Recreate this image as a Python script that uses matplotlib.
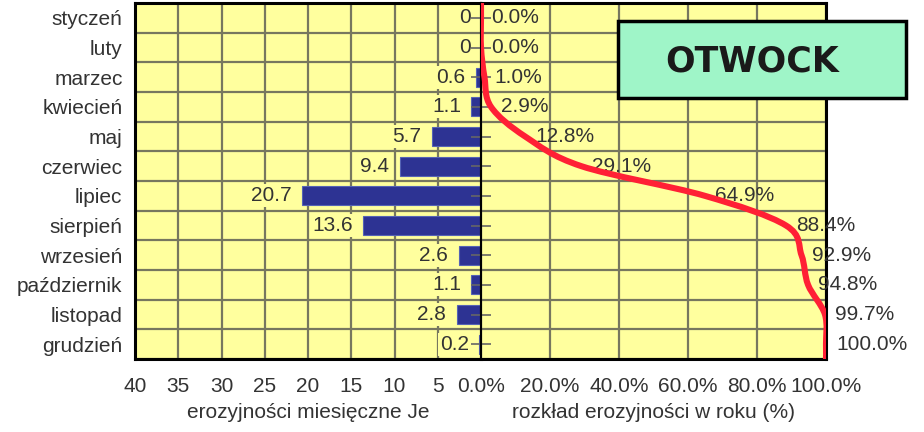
import numpy as np
import matplotlib
matplotlib.use("Agg")
import matplotlib.pyplot as plt
from matplotlib.path import Path
from matplotlib.patches import PathPatch, Rectangle

# ---- data -------------------------------------------------------------
months = ['styczeń', 'luty', 'marzec', 'kwiecień', 'maj', 'czerwiec',
          'lipiec', 'sierpień', 'wrzesień', 'październik', 'listopad', 'grudzień']
erosivity = [0, 0, 0.6, 1.1, 5.7, 9.4, 20.7, 13.6, 2.6, 1.1, 2.8, 0.2]
cumulative_pct = [0.0, 0.0, 1.0, 2.9, 12.8, 29.1, 64.9, 88.4, 92.9, 94.8, 99.7, 100.0]
left_ticks = [40, 35, 30, 25, 20, 15, 10, 5]
right_ticks = [0, 20, 40, 60, 80, 100]
station = 'OTWOCK'
left_title = 'erozyjności miesięczne Je'
right_title = 'rozkład erozyjności w roku (%)'

# ---- style ------------------------------------------------------------
plt.rcParams['font.family'] = ['Liberation Sans', 'DejaVu Sans']
TXT = '#333333'
BG = '#FFFF9E'
GRID = '#77775f'
BAR = '#2D3393'
RED = '#FF2035'
FS = 15

W, H = 924, 432
fig = plt.figure(figsize=(W / 100, H / 100), dpi=100)


def fx(px):
    return px / W


def fy(py):
    return 1 - py / H


L, C, R, T, B = 135, 481, 826, 3, 359
axl = fig.add_axes([fx(L), fy(B), fx(C) - fx(L), fy(T) - fy(B)])
axr = fig.add_axes([fx(C), fy(B), fx(R) - fx(C), fy(T) - fy(B)])

rows = np.arange(len(months))
for ax in (axl, axr):
    ax.set_facecolor(BG)
    ax.set_ylim(len(months) - 0.5, -0.5)
    ax.set_yticks(rows + 0.5, minor=True)
    ax.grid(True, which='minor', axis='y', color=GRID, lw=1.6)
    ax.grid(True, which='major', axis='x', color=GRID, lw=1.6)
    ax.set_axisbelow(True)
    for s in ax.spines.values():
        s.set_color('black')
        s.set_linewidth(2.2)
    ax.tick_params(axis='y', which='minor', length=0)
    ax.tick_params(axis='x', length=0, pad=13, labelsize=FS, labelcolor=TXT)

# ---- left: monthly erosivity bars ------------------------------------
axl.set_xlim(40, 0)
axl.barh(rows, erosivity, height=0.64, color=BAR, edgecolor='#5563b5',
         linewidth=0.8, zorder=2)
axl.set_xticks(left_ticks)
axl.set_xticklabels([str(t) for t in left_ticks])
axl.set_yticks(rows)
axl.set_yticklabels(months)
axl.tick_params(axis='y', which='major', length=0, pad=9, labelsize=FS,
                labelcolor=TXT)
axl.spines['right'].set_linewidth(1.5)

for i, v in enumerate(erosivity):
    lab = '0' if v == 0 else f'{v:.1f}'
    axl.annotate(lab, xy=(v, i), xytext=(-7.5, 0), textcoords='offset points',
                 ha='right', va='center', fontsize=FS, color=TXT, zorder=3,
                 bbox=dict(boxstyle='square,pad=0.1', fc=BG, ec='none'))

# ---- right: cumulative distribution ---------------------------------
axr.set_xlim(0, 100)
axr.set_xticks(right_ticks)
axr.set_xticklabels([f'{t:.1f}%' for t in right_ticks])
axr.set_yticks(rows)
axr.set_yticklabels([])
axr.tick_params(axis='y', which='major', direction='inout', length=14,
                width=1.2, color='#666666')
axr.spines['left'].set_linewidth(1.5)

for i, p in enumerate(cumulative_pct):
    axr.annotate(f'{p:.1f}%', xy=(p, i), xytext=(7.5, 0),
                 textcoords='offset points', ha='left', va='center',
                 fontsize=FS, color=TXT, zorder=3, annotation_clip=False)

# smoothed curve (Catmull-Rom -> cubic Bezier), computed in pixel-scaled space
y0, y1 = axr.get_ylim()
pts = [(cumulative_pct[0], y1)] + list(zip(cumulative_pct, rows)) + \
      [(cumulative_pct[-1], y0)]
sx = (R - C) / 100.0
sy = (B - T) / len(months)
P = np.array([(x * sx, y * sy) for x, y in pts], dtype=float)
verts = [P[0]]
codes = [Path.MOVETO]
n = len(P)
for k in range(n - 1):
    p0 = P[k - 1] if k > 0 else P[k]
    p1 = P[k]
    p2 = P[k + 1]
    p3 = P[k + 2] if k + 2 < n else P[k + 1]
    c1 = p1 + (p2 - p0) / 6.0
    c2 = p2 - (p3 - p1) / 6.0
    verts += [c1, c2, p2]
    codes += [Path.CURVE4] * 3
verts = np.array(verts)
verts[:, 0] /= sx
verts[:, 1] /= sy
curve = PathPatch(Path(verts, codes), fc='none', ec=RED, lw=4.4,
                  capstyle='round', joinstyle='round', zorder=4)
axr.add_patch(curve)

# ---- titles -----------------------------------------------------------
fig.text(fx((L + C) / 2), fy(413), left_title, ha='center', va='center',
         fontsize=FS, color=TXT)
fig.text(fx((C + R) / 2), fy(413), right_title, ha='center', va='center',
         fontsize=FS, color=TXT)

box = Rectangle((fx(618), fy(98)), fx(906) - fx(618), fy(21) - fy(98),
                transform=fig.transFigure, fc='#9FF5C8', ec='black', lw=2.5,
                zorder=5)
fig.patches.append(box)
fig.text(fx(752), fy(61), station, ha='center', va='center', fontsize=25,
         fontweight='bold', family='DejaVu Sans', color='#1a1a1a', zorder=6)

fig.savefig('out.png', dpi=100)
